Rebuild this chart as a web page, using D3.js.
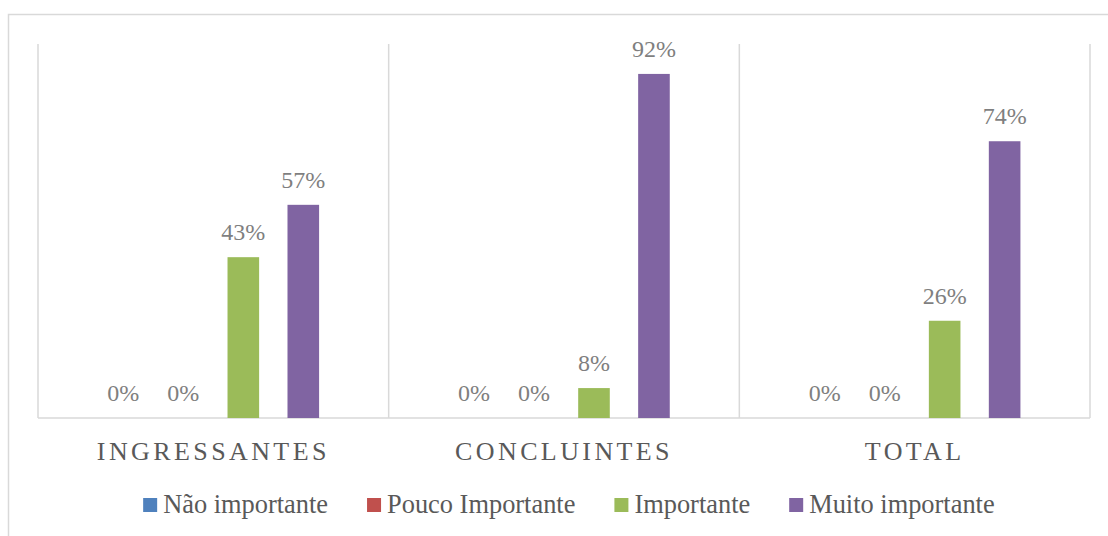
<!DOCTYPE html>
<html>
<head>
<meta charset="utf-8">
<script src="https://cdn.jsdelivr.net/npm/d3@7"></script>
<style>
  html, body { margin: 0; padding: 0; background: #fff; }
  svg { display: block; }
</style>
</head>
<body>
<svg id="chart" width="1108" height="536"></svg>
<script>
// Grupos e séries
const categories = ["INGRESSANTES", "CONCLUINTES", "TOTAL"];
const seriesNames = ["Não importante", "Pouco Importante", "Importante", "Muito importante"];
const seriesColors = ["#4F81BD", "#C0504D", "#9BBB59", "#8064A2"];
// Valores por série, na ordem dos grupos
const naoImportante = [0, 0, 0];
const poucoImportante = [0, 0, 0];
const importante = [0.43, 0.08, 0.26];
const muitoImportante = [0.57, 0.92, 0.74];
const seriesValues = [naoImportante, poucoImportante, importante, muitoImportante];

const serif = "'Liberation Serif', 'Times New Roman', serif";
const svg = d3.select("#chart").attr("font-family", serif);
const plot = { left: 38, right: 1090, top: 44, bottom: 418 };
const gridColor = "#d9d9d9";

// Moldura do gráfico
svg.append("rect")
  .attr("x", 8.5).attr("y", 14.5)
  .attr("width", 1120).attr("height", 540)
  .attr("fill", "none").attr("stroke", gridColor).attr("stroke-width", 1.5);

const x0 = d3.scaleBand().domain(categories).range([plot.left, plot.right]).padding(0);
const x1 = d3.scaleBand().domain(seriesNames).range([0, x0.bandwidth()])
  .paddingInner(0.473).paddingOuter(1.16);
const y = d3.scaleLinear().domain([0, 1]).range([plot.bottom, plot.top]);

// Linhas verticais entre grupos
const edges = categories.map(c => x0(c)).concat([x0(categories[categories.length - 1]) + x0.bandwidth()]);
svg.append("g").selectAll("line").data(edges).join("line")
  .attr("x1", d => d).attr("x2", d => d)
  .attr("y1", plot.top).attr("y2", plot.bottom)
  .attr("stroke", gridColor).attr("stroke-width", 1.5);

// Linha de base
svg.append("line")
  .attr("x1", plot.left).attr("x2", plot.right)
  .attr("y1", plot.bottom).attr("y2", plot.bottom)
  .attr("stroke", gridColor).attr("stroke-width", 1.5);

// Barras e rótulos
const rows = [];
categories.forEach((c, ci) => {
  seriesNames.forEach((s, si) => {
    rows.push({ cat: c, series: s, color: seriesColors[si], value: seriesValues[si][ci] });
  });
});

const groups = svg.append("g");
groups.selectAll("rect").data(rows).join("rect")
  .attr("x", d => x0(d.cat) + x1(d.series))
  .attr("y", d => y(d.value))
  .attr("width", x1.bandwidth())
  .attr("height", d => y(0) - y(d.value))
  .attr("fill", d => d.color);

groups.selectAll("text").data(rows).join("text")
  .attr("x", d => x0(d.cat) + x1(d.series) + x1.bandwidth() / 2)
  .attr("y", d => y(d.value) - 17)
  .attr("text-anchor", "middle")
  .attr("font-family", serif)
  .attr("font-size", 24)
  .attr("fill", "#7f7f7f")
  .text(d => d3.format(".0%")(d.value));

// Rótulos das categorias
const xAxis = d3.axisBottom(x0).tickSize(0).tickPadding(0);
const axisG = svg.append("g").attr("transform", `translate(0,${plot.bottom})`).call(xAxis);
axisG.attr("font-family", serif);
axisG.select(".domain").remove();
axisG.selectAll("text")
  .attr("dy", null)
  .attr("y", 42)
  .attr("font-family", serif)
  .attr("font-size", 26)
  .attr("letter-spacing", "3.4px")
  .attr("dx", "0px")
  .attr("fill", "#595959");

// Legenda
const legend = svg.append("g");
const legendY = 513;
const box = 14, boxGap = 6, itemGap = 39;
let cx = 0;
seriesNames.forEach((name, i) => {
  const g = legend.append("g");
  g.append("rect").attr("x", cx).attr("y", legendY - 15).attr("width", box).attr("height", box)
    .attr("fill", seriesColors[i]);
  const t = g.append("text").attr("x", cx + box + boxGap).attr("y", legendY)
    .attr("font-family", serif)
    .attr("font-size", 26.4).attr("fill", "#595959").text(name);
  const w = t.node().getComputedTextLength();
  cx += box + boxGap + w + itemGap;
});
const legendWidth = cx - itemGap;
legend.attr("transform", `translate(${568.9 - legendWidth / 2},0)`);
</script>
</body>
</html>
